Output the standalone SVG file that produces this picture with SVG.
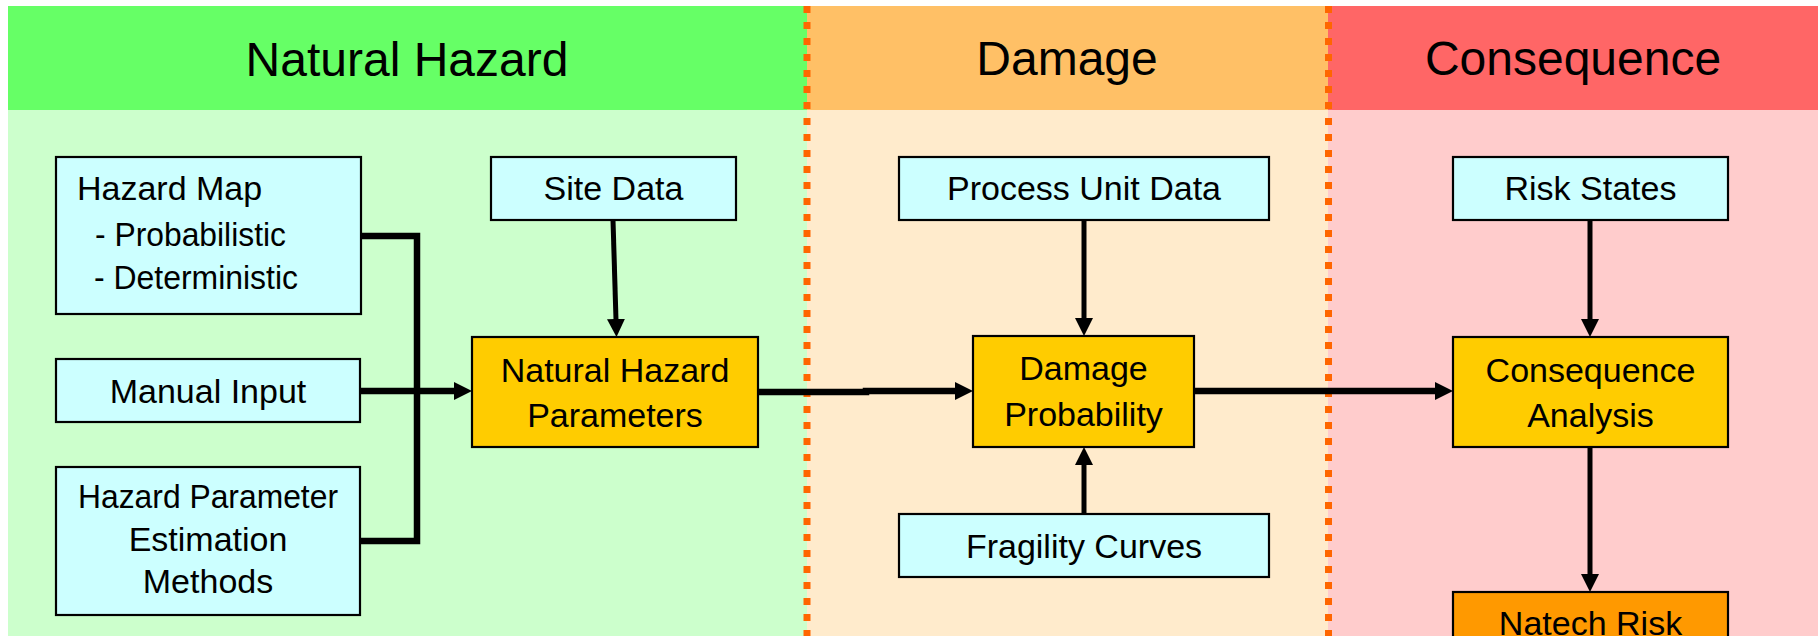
<svg xmlns="http://www.w3.org/2000/svg" width="1818" height="636" viewBox="0 0 1818 636">
<style>
.box{stroke:#000;stroke-width:2.2}
.in{fill:#CCFFFF}
.mid{fill:#FFCC00}
.out{fill:#FF9900}
text{font-family:"Liberation Sans",Arial,sans-serif;fill:#000}
.t{font-size:34px}
.h{font-size:48px}
.c{text-anchor:middle}
.th{fill:none;stroke:#000;stroke-width:6.5;stroke-linejoin:miter}
.tv{fill:none;stroke:#000;stroke-width:5}
.div{stroke:#FF6600;stroke-width:7;stroke-dasharray:7 9}
</style>
<defs>
<marker id="ah" viewBox="0 0 18 18" refX="1" refY="9" markerWidth="18" markerHeight="18" markerUnits="userSpaceOnUse" orient="auto">
<path d="M0,0 L18,9 L0,18 z" fill="#000"/>
</marker>
</defs>
<rect width="1818" height="636" fill="#FFFFFF"/>
<g id="lanes">
<rect x="8" y="6" width="799" height="104" fill="#66FF66"/>
<rect x="8" y="110" width="799" height="526" fill="#CCFFCC"/>
<rect x="807" y="6" width="521" height="104" fill="#FFC066"/>
<rect x="807" y="110" width="521" height="526" fill="#FFEBCC"/>
<rect x="1328" y="6" width="490" height="104" fill="#FF6666"/>
<rect x="1328" y="110" width="490" height="526" fill="#FFCCCC"/>
<line class="div" x1="807" y1="6" x2="807" y2="636"/>
<line class="div" x1="1328.5" y1="6" x2="1328.5" y2="636"/>
<text class="h c" x="407" y="76">Natural Hazard</text>
<text class="h c" x="1067" y="75">Damage</text>
<text class="h c" x="1573" y="75">Consequence</text>
</g>
<g id="connectors">
<polyline class="th" points="361,236 417,236 417,541 360,541"/>
<line class="th" x1="360" y1="391" x2="455" y2="391" marker-end="url(#ah)"/>
<line class="tv" x1="613" y1="220" x2="616" y2="320" marker-end="url(#ah)"/>
<path class="th" d="M758,392 H866 V391 H956" marker-end="url(#ah)"/>
<line class="th" x1="1194" y1="391" x2="1436" y2="391" marker-end="url(#ah)"/>
<line class="tv" x1="1084" y1="220" x2="1084" y2="319" marker-end="url(#ah)"/>
<line class="tv" x1="1084" y1="514" x2="1084" y2="464" marker-end="url(#ah)"/>
<line class="tv" x1="1590" y1="220" x2="1590" y2="320" marker-end="url(#ah)"/>
<line class="tv" x1="1590" y1="447" x2="1590" y2="575" marker-end="url(#ah)"/>
</g>
<g id="hazard-map">
<rect class="box in" x="56" y="157" width="305" height="157"/>
<text class="t" x="77" y="200">Hazard Map</text>
<text class="t" x="95" y="246" textLength="191" lengthAdjust="spacingAndGlyphs">- Probabilistic</text>
<text class="t" x="94" y="289" textLength="204" lengthAdjust="spacingAndGlyphs">- Deterministic</text>
</g>
<g id="manual-input">
<rect class="box in" x="56" y="359" width="304" height="63"/>
<text class="t c" x="208" y="403">Manual Input</text>
</g>
<g id="hazard-parameter-estimation">
<rect class="box in" x="56" y="467" width="304" height="148"/>
<text class="t c" x="208" y="508" textLength="260" lengthAdjust="spacingAndGlyphs">Hazard Parameter</text>
<text class="t c" x="208" y="551">Estimation</text>
<text class="t c" x="208" y="593">Methods</text>
</g>
<g id="site-data">
<rect class="box in" x="491" y="157" width="245" height="63"/>
<text class="t c" x="613.5" y="200">Site Data</text>
</g>
<g id="natural-hazard-parameters">
<rect class="box mid" x="472" y="337" width="286" height="110"/>
<text class="t c" x="615" y="382">Natural Hazard</text>
<text class="t c" x="615" y="427">Parameters</text>
</g>
<g id="process-unit-data">
<rect class="box in" x="899" y="157" width="370" height="63"/>
<text class="t c" x="1084" y="200">Process Unit Data</text>
</g>
<g id="damage-probability">
<rect class="box mid" x="973" y="336" width="221" height="111"/>
<text class="t c" x="1083.5" y="380">Damage</text>
<text class="t c" x="1083.5" y="426">Probability</text>
</g>
<g id="fragility-curves">
<rect class="box in" x="899" y="514" width="370" height="63"/>
<text class="t c" x="1084" y="558">Fragility Curves</text>
</g>
<g id="risk-states">
<rect class="box in" x="1453" y="157" width="275" height="63"/>
<text class="t c" x="1590.5" y="200">Risk States</text>
</g>
<g id="consequence-analysis">
<rect class="box mid" x="1453" y="337" width="275" height="110"/>
<text class="t c" x="1590.5" y="382">Consequence</text>
<text class="t c" x="1590.5" y="427">Analysis</text>
</g>
<g id="natech-risk">
<rect class="box out" x="1453" y="592" width="275" height="60"/>
<text class="t c" x="1590.5" y="635">Natech Risk</text>
</g>
</svg>
